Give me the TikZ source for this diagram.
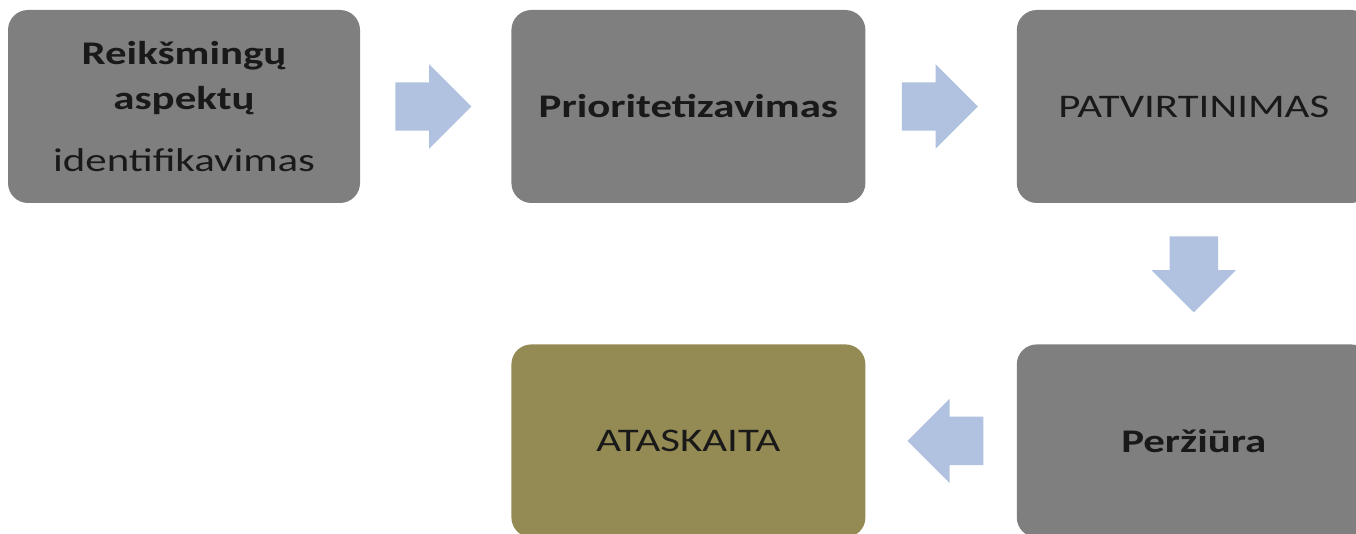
\documentclass[tikz,border=0pt]{standalone}
\usepackage{fontspec}
\setmainfont{Carlito}[FakeStretch=1.3]
\usetikzlibrary{positioning,calc,shapes.arrows}

\definecolor{stepgray}{HTML}{7F7F7F}
\definecolor{reportolive}{HTML}{948A54}
\definecolor{flowblue}{HTML}{B0C2DF}

\begin{document}
\begin{tikzpicture}[
		x=1pt, y=-1pt,
		node distance=151pt,
		stepbox/.style={fill=stepgray, rounded corners=20pt, minimum width=354pt, minimum height=193pt, inner sep=0pt, align=center, text=black!90, font=\fontsize{33}{45}\selectfont},
		flow/.style={single arrow, fill=flowblue, anchor=tail, inner xsep=0pt, inner ysep=24pt, single arrow head extend=18pt, minimum height=76pt, minimum width=84pt},
	]
		\useasboundingbox (0,0) rectangle (1356,534);

		\node (ident) [stepbox, minimum width=352pt] at (184,106.5) {\textbf{Reikšmingų}\\\textbf{aspektų}\\[17pt]identifikavimas};
		\node (prior) [stepbox, right=of ident] {\textbf{Prioritetizavimas}};
		\node (patv) [stepbox, right=of prior] {PATVIRTINIMAS};
		\node (perz) [stepbox, below=141pt of patv] {\textbf{Peržiūra}};
		\node (atask) [stepbox, fill=reportolive, left=of perz] {ATASKAITA};

		\node (ident to prior) [flow] at ($(ident.east)+(35,0)$) {};
		\node (prior to patv) [flow] at ($(prior.east)+(36,0)$) {};
		\node (patv to perz) [flow, rotate=270] at ($(patv.south)+(0,33)$) {};
		\node (perz to atask) [flow, rotate=180] at ($(perz.west)+(-33,0)$) {};
	\end{tikzpicture}
\end{document}
